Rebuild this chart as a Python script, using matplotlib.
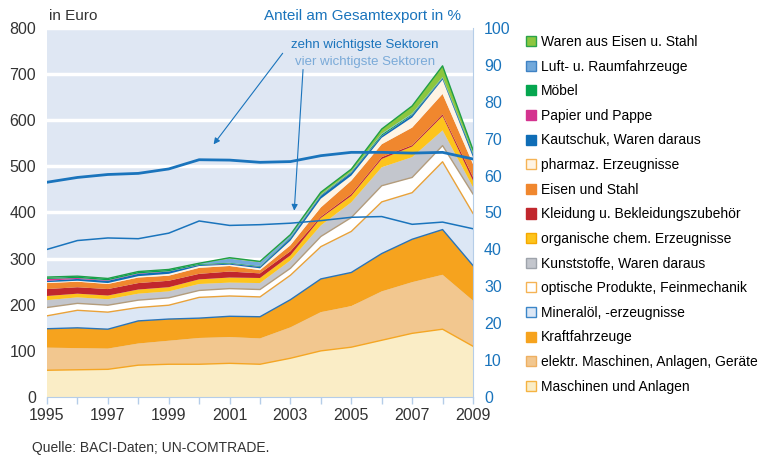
import matplotlib
matplotlib.use("Agg")
import matplotlib.pyplot as plt
import numpy as np
from matplotlib.patches import Patch

plt.rcParams["font.family"] = ["Liberation Sans", "DejaVu Sans"]

# data (Euro per sector, stacked bottom -> top)
years = list(range(1995, 2010))
maschinen = [58, 59, 60, 69, 71, 71, 73, 71, 84, 100, 108, 123, 138, 147, 110]
elektr = [49, 47, 45, 47, 51, 57, 57, 56, 67, 84, 89, 106, 111, 118, 99]
kfz = [41, 44, 42, 49, 47, 43, 45, 47, 60, 72, 73, 82, 93, 98, 76]
mineraloel = [28, 38, 37, 29, 30, 45, 44, 43, 53, 70, 89, 112, 101, 147, 113]
optische = [18, 15, 15, 16, 16, 15, 16, 16, 15, 22, 30, 35, 33, 35, 42]
kunststoffe = [16, 13, 13, 14, 14, 14, 13, 14, 17, 24, 33, 40, 44, 33, 15]
organische = [9, 8, 8, 9, 9, 10, 11, 11, 11, 16, 14, 18, 23, 31, 14]
kleidung = [15, 14, 14, 14, 14, 12, 13, 10, 9, 3, 4, 4, 3, 4, 8]
eisen = [13, 12, 11, 12, 11, 13, 12, 7, 13, 20, 29, 28, 38, 44, 28]
pharmaz = [2, 2, 2, 3, 4, 4, 3, 4, 10, 19, 11, 14, 22, 31, 15]
kautschuk = [3, 4, 5, 5, 5, 2, 2, 3, 5, 6, 6, 4, 5, 3, 6]
papier = [4, 2, 1, 1, 0.5, 0.5, 0.5, 0.5, 0.5, 0.5, 0.5, 0.5, 0.5, 0.5, 0.5]
moebel = [2, 3, 3, 3, 3, 2, 1.5, 1.5, 1.5, 1.5, 1.5, 3, 2, 1.5, 2.5]
luft = [1, 0.5, 0.5, 0.5, 0.5, 1, 9, 8, 4, 1, 1, 1.5, 1.5, 1, 1]
waren = [1, 0.5, 0.5, 0.5, 0.5, 0.5, 2, 2, 2, 5, 5, 10, 16, 24, 6]

# share of total exports in %
zehn_sektoren = [58.2, 59.5, 60.3, 60.6, 61.8, 64.3, 64.2, 63.6, 63.8, 65.4, 66.3, 66.3, 66.1, 66.3, 64.5]
vier_sektoren = [40.0, 42.4, 43.1, 42.9, 44.4, 47.7, 46.5, 46.7, 47.1, 47.8, 48.7, 48.9, 46.8, 47.4, 45.6]

# (label, values, face, legend edge, top line colour or None)
layers = [
    ("Maschinen und Anlagen", maschinen, "#faedc6", "#f5b342", "#f5a623"),
    ("elektr. Maschinen, Anlagen, Geräte", elektr, "#f2c78f", "#eeb062", None),
    ("Kraftfahrzeuge", kfz, "#f6a31e", "#f6a31e", "#2a74b8"),
    ("Mineralöl, -erzeugnisse", mineraloel, "#dce7f5", "#3b86c8", "#e9a23a"),
    ("optische Produkte, Feinmechanik", optische, "#ffffff", "#f5b355", "#b39c7c"),
    ("Kunststoffe, Waren daraus", kunststoffe, "#c3c6cd", "#9ea3ab", None),
    ("organische chem. Erzeugnisse", organische, "#fdc41c", "#f5a800", None),
    ("Kleidung u. Bekleidungszubehör", kleidung, "#c1272d", "#c1272d", None),
    ("Eisen und Stahl", eisen, "#f0872e", "#f0872e", None),
    ("pharmaz. Erzeugnisse", pharmaz, "#fff4e4", "#f5b355", None),
    ("Kautschuk, Waren daraus", kautschuk, "#0f6db6", "#0f6db6", None),
    ("Papier und Pappe", papier, "#d4338f", "#d4338f", None),
    ("Möbel", moebel, "#05a64f", "#05a64f", None),
    ("Luft- u. Raumfahrzeuge", luft, "#72a9db", "#3f82c4", None),
    ("Waren aus Eisen u. Stahl", waren, "#8cc63f", "#2aa34a", "#1f9e48"),
]

blue = "#1a74bc"
light_blue = "#7aaad8"
grey_text = "#333333"

fig = plt.figure(figsize=(7.62, 4.59), dpi=100)
ax = fig.add_axes([47 / 762, 62 / 459, 426 / 762, 369 / 459])
ax.set_facecolor("#dfe7f3")

x = np.array(years)
base = np.zeros(len(years))
for label, vals, face, edge, top in layers:
    upper = base + np.array(vals, dtype=float)
    ax.fill_between(x, base, upper, facecolor=face, lw=0, zorder=2)
    if top:
        ax.plot(x, upper, color=top, lw=1, zorder=3)
    base = upper

ax.set_xlim(1995, 2009)
ax.set_ylim(0, 800)
ax.set_yticks(range(0, 801, 100))
ax.set_xticks(years, minor=True)
ax.set_xticks(range(1995, 2010, 2))
ax.grid(axis="y", color="white", lw=2.5, zorder=1)
ax.set_axisbelow(True)
for s in ["left", "top", "right"]:
    ax.spines[s].set_visible(False)
ax.spines["bottom"].set_color("#b5cde8")
ax.tick_params(axis="y", length=0, pad=8, labelsize=11.5, labelcolor=grey_text)
ax.tick_params(axis="x", which="both", length=5, width=1, color="#b5cde8",
               pad=3, labelsize=11.5, labelcolor=grey_text)

ax2 = ax.twinx()
ax2.set_ylim(0, 100)
ax2.set_yticks(range(0, 101, 10))
ax2.plot(x, zehn_sektoren, color=blue, lw=2, zorder=5)
ax2.plot(x, vier_sektoren, color=blue, lw=1.1, zorder=5)
for s in ["left", "top", "bottom"]:
    ax2.spines[s].set_visible(False)
ax2.spines["right"].set_color("#b5cde8")
ax2.tick_params(axis="y", length=0, pad=8, labelsize=11.5, labelcolor=blue)

# annotations
ax.text(2005.45, 763, "zehn wichtigste Sektoren", color=blue, fontsize=9.5,
        ha="center", va="center", zorder=6)
ax.text(2005.45, 726, "vier wichtigste Sektoren", color=light_blue, fontsize=9.5,
        ha="center", va="center", zorder=6)
ax.annotate("", xy=(2000.42, 543), xytext=(2002.8, 750),
            arrowprops=dict(arrowstyle="-|>", color=blue, lw=0.8, mutation_scale=9), zorder=6)
ax.annotate("", xy=(2003.12, 398), xytext=(2003.42, 716),
            arrowprops=dict(arrowstyle="-|>", color=blue, lw=0.8, mutation_scale=9), zorder=6)

fig.text(49 / 762, 1 - 16 / 459, "in Euro", fontsize=11, color=grey_text, va="center")
fig.text(363 / 762, 1 - 16 / 459, "Anteil am Gesamtexport in %", fontsize=11,
         color=blue, va="center", ha="center")
fig.text(32 / 762, 1 - 448 / 459, "Quelle: BACI-Daten; UN-COMTRADE.", fontsize=10,
         color=grey_text, va="center")

handles = [Patch(facecolor=face, edgecolor=edge, lw=1, label=label)
           for label, vals, face, edge, top in reversed(layers)]
fig.legend(handles=handles, loc="upper left", bbox_to_anchor=(526 / 762, 1 - 35 / 459),
           frameon=False, fontsize=10, handlelength=0.75, handleheight=0.75,
           handletextpad=0.35, labelspacing=0.765, borderpad=0, borderaxespad=0)

fig.savefig("out.png", dpi=100)
